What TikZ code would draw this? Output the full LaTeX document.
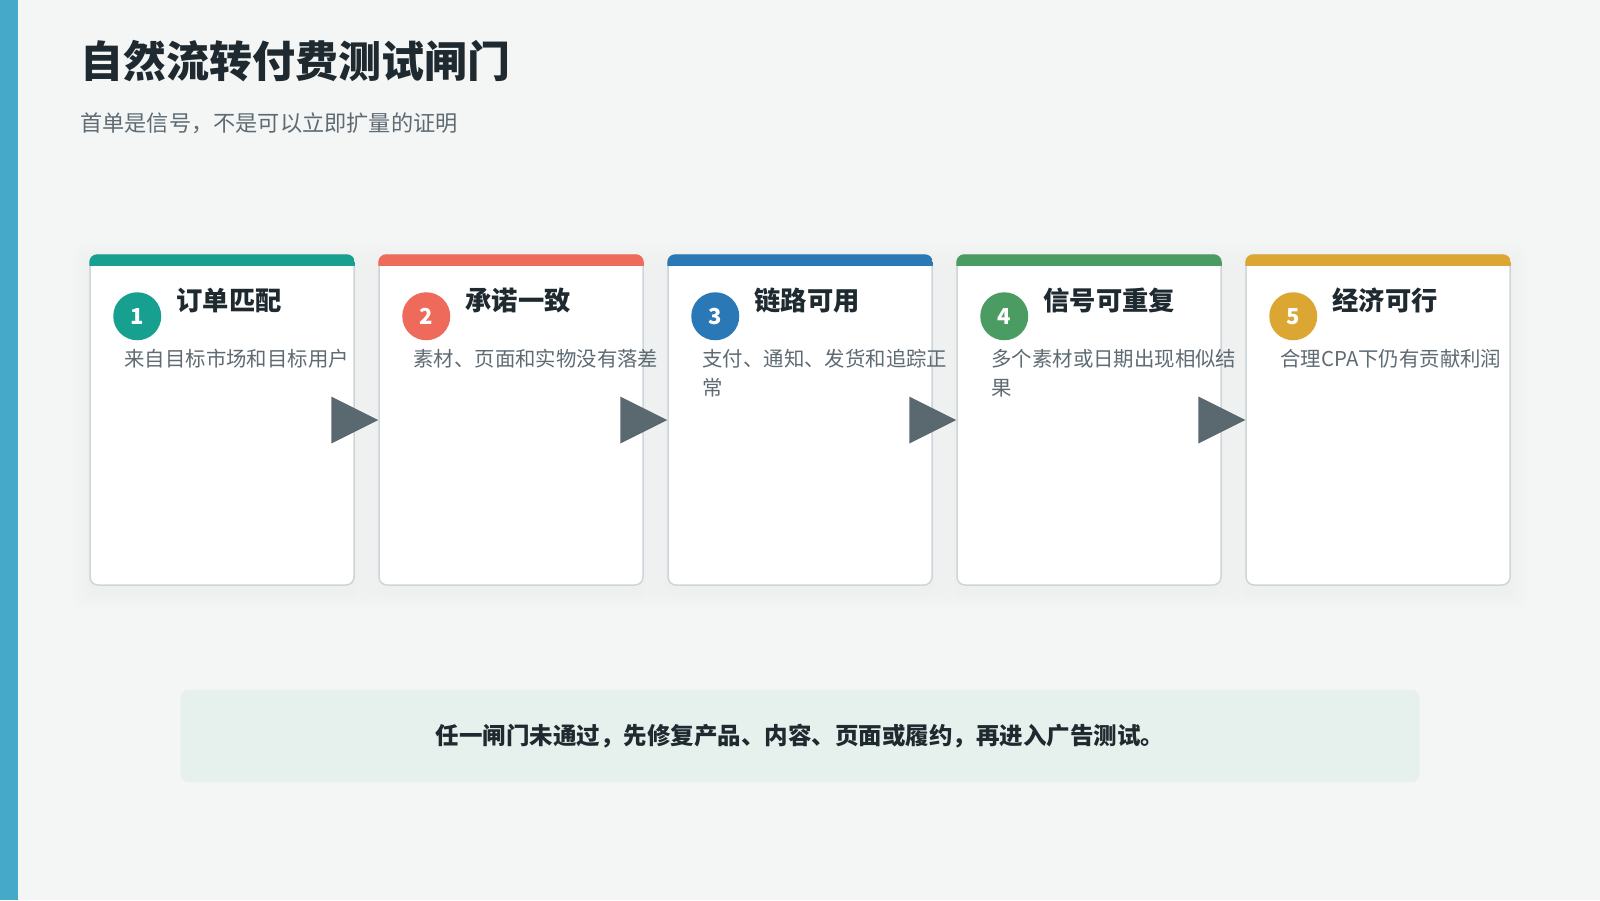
\documentclass[tikz,border=0pt]{standalone}
\usepackage{fontspec}
\setmainfont{Noto Sans CJK SC}
\usetikzlibrary{calc}
\definecolor{pagebg}{HTML}{F4F6F5}
\definecolor{sidebar}{HTML}{45A9C9}
\definecolor{inkdark}{HTML}{1F2A30}
\definecolor{inkgrey}{HTML}{5E6B73}
\definecolor{cardline}{HTML}{CCD5DA}
\definecolor{arrowgrey}{HTML}{5A6970}
\definecolor{notebg}{HTML}{E6F0EC}
\definecolor{gate1}{HTML}{17A08F}
\definecolor{gate2}{HTML}{EE6B5B}
\definecolor{gate3}{HTML}{2A78B5}
\definecolor{gate4}{HTML}{4B9C62}
\definecolor{gate5}{HTML}{DBA632}
\tikzset{
  card/.style={draw=cardline, line width=1.5pt, fill=white, rounded corners=8pt, minimum width=264pt, minimum height=330pt, inner sep=0pt},
  badge/.style={circle, minimum size=48pt, inner sep=0pt, text=white, font=\fontsize{22}{26}\selectfont\bfseries},
  gatehead/.style={anchor=base west, inner sep=0pt, text=inkdark, font=\fontsize{26.3}{30}\selectfont\bfseries},
  gatedesc/.style={anchor=north west, align=left, inner sep=0pt, text=inkgrey, font=\fontsize{20.4}{29}\selectfont},
}
\begin{document}
\begin{tikzpicture}[x=1pt,y=-1pt]
    \fill[pagebg] (0,0) rectangle (1600,900);
    \useasboundingbox (0,0) rectangle (1600,900);
    \fill[sidebar] (0,0) rectangle (18,900);
    \node[anchor=base west, inner sep=0pt, text=inkdark, font=\fontsize{43}{50}\selectfont\bfseries] (title) at (80,77) {自然流转付费测试闸门};
    \node[anchor=base west, inner sep=0pt, text=inkgrey, font=\fontsize{22.2}{27}\selectfont] (subtitle) at (80,131) {首单是信号，不是可以立即扩量的证明};
    % five gates
    \foreach \n/\col/\head/\desc in {1/gate1/订单匹配/来自目标市场和目标用户,2/gate2/承诺一致/素材、页面和实物没有落差,3/gate3/链路可用/{支付、通知、发货和追踪正\\\strut 常},4/gate4/信号可重复/{多个素材或日期出现相似结\\\strut 果},5/gate5/经济可行/合理CPA下仍有贡献利润}{
    \pgfmathsetmacro\cx{222+289*(\n-1)}
    \foreach \s in {3,6,...,18}{
    \fill[black,opacity=0.004,rounded corners=12pt] (\cx-132-\s,255-\s+6) rectangle (\cx+132+\s,585+\s+6);
    }
    \node[card] (card\n) at (\cx,420) {};
    \begin{scope}
    \clip[rounded corners=8pt] (card\n.north west) rectangle (card\n.south east);
    \fill[\col] (card\n.north west) rectangle ($(card\n.north east)+(0,12)$);
    \end{scope}
    \node[badge, fill=\col] (badge\n) at ($(card\n.north west)+(48,62)$) {\n};
    \node[gatehead] (head\n) at ($(card\n.north west)+(87,56)$) {\head};
    \node[gatedesc] (desc\n) at ($(card\n.north west)+(35,92)$) {\strut\desc};
    }
    \foreach \a/\b in {1/2,2/3,3/4,4/5}{
    \fill[arrowgrey] ($(card\b.west)+(-47,-23.5)$) -- (card\b.west) -- ($(card\b.west)+(-47,23.5)$) -- cycle;
    }
    \node[fill=notebg, rounded corners=8pt, minimum width=1239pt, minimum height=92pt, text=inkdark, font=\fontsize{23.5}{28}\selectfont\bfseries] (note) at (800,736) {任一闸门未通过，先修复产品、内容、页面或履约，再进入广告测试。};
\end{tikzpicture}
\end{document}
